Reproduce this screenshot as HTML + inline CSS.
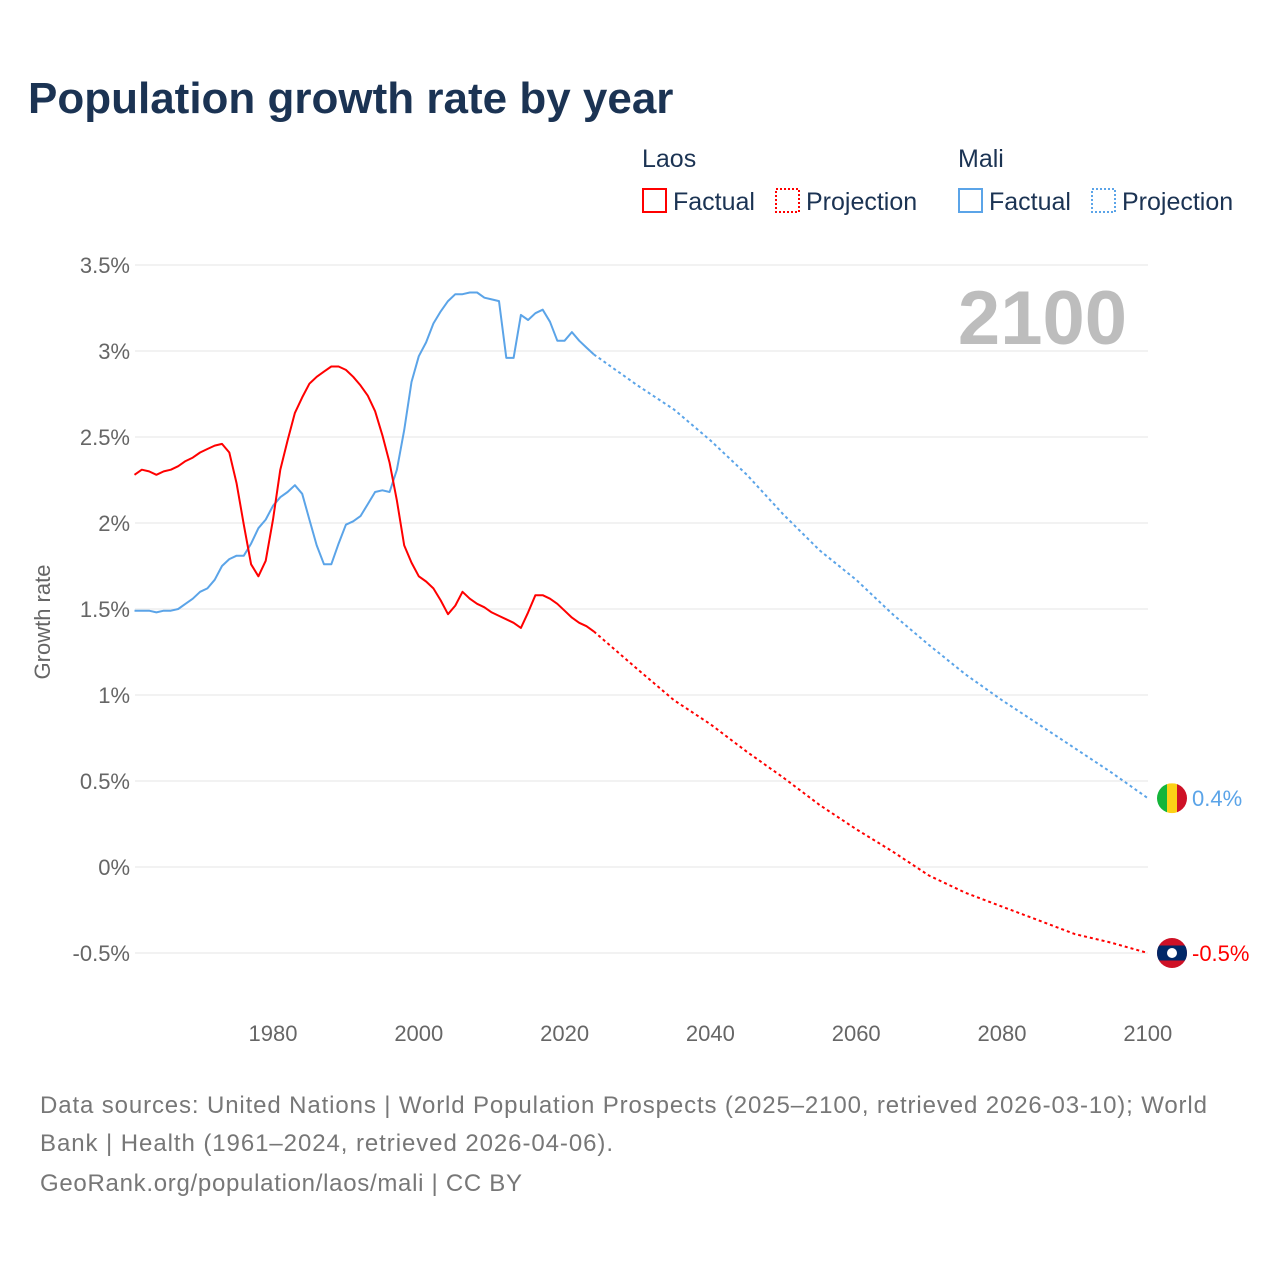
<!DOCTYPE html>
<html><head><meta charset="utf-8"><style>
body{margin:0;background:#fff;}
svg text{font-family:"Liberation Sans",sans-serif;}
</style></head><body>
<svg id="chart" width="1280" height="1280" xmlns="http://www.w3.org/2000/svg">
<rect width="1280" height="1280" fill="#fff"/>
<text x="28" y="113" font-size="44" font-weight="bold" fill="#1b3353">Population growth rate by year</text>
<g font-size="25" fill="#1b3353">
<text x="642" y="167">Laos</text>
<text x="958" y="167">Mali</text>
<g><rect x="643" y="189" width="23" height="23" fill="none" stroke="#f00" stroke-width="2"/><text x="673" y="210">Factual</text></g>
<g><rect x="776" y="189" width="23" height="23" fill="none" stroke="#f00" stroke-width="2" stroke-dasharray="2,2"/><text x="806" y="210">Projection</text></g>
<g><rect x="959" y="189" width="23" height="23" fill="none" stroke="#5ba4e8" stroke-width="2"/><text x="989" y="210">Factual</text></g>
<g><rect x="1092" y="189" width="23" height="23" fill="none" stroke="#5ba4e8" stroke-width="2" stroke-dasharray="2,2"/><text x="1122" y="210">Projection</text></g>
</g>
<text x="1127" y="344" font-size="76" font-weight="bold" fill="#bdbdbd" text-anchor="end">2100</text>
<text transform="translate(50,622) rotate(-90)" font-size="22" fill="#666" text-anchor="middle">Growth rate</text>
<g id="grid"></g><g id="lines"></g><g id="labels"></g>
<g font-size="24" fill="#777">
<text x="40" y="1113" textLength="1167" lengthAdjust="spacing">Data sources: United Nations | World Population Prospects (2025–2100, retrieved 2026-03-10); World</text>
<text x="40" y="1151" textLength="573" lengthAdjust="spacing">Bank | Health (1961–2024, retrieved 2026-04-06).</text>
<text x="40" y="1191" textLength="482" lengthAdjust="spacing">GeoRank.org/population/laos/mali | CC BY</text>
</g>
</svg>
<script>
const yTicks=[3.5,3,2.5,2,1.5,1,0.5,0,-0.5];
const yTickLabels=["3.5%","3%","2.5%","2%","1.5%","1%","0.5%","0%","-0.5%"];
const xTicks=[1980,2000,2020,2040,2060,2080,2100];
const factYears=[];for(let y=1961;y<=2024;y++)factYears.push(y);
const laosFactual=[2.28,2.31,2.30,2.28,2.30,2.31,2.33,2.36,2.38,2.41,2.43,2.45,2.46,2.41,2.23,1.99,1.76,1.69,1.78,2.02,2.31,2.48,2.64,2.73,2.81,2.85,2.88,2.91,2.91,2.89,2.85,2.80,2.74,2.65,2.51,2.35,2.13,1.87,1.77,1.69,1.66,1.62,1.55,1.47,1.52,1.60,1.56,1.53,1.51,1.48,1.46,1.44,1.42,1.39,1.48,1.58,1.58,1.56,1.53,1.49,1.45,1.42,1.40,1.37];
const maliFactual=[1.49,1.49,1.49,1.48,1.49,1.49,1.50,1.53,1.56,1.60,1.62,1.67,1.75,1.79,1.81,1.81,1.88,1.97,2.02,2.10,2.15,2.18,2.22,2.17,2.02,1.87,1.76,1.76,1.88,1.99,2.01,2.04,2.11,2.18,2.19,2.18,2.31,2.54,2.82,2.97,3.05,3.16,3.23,3.29,3.33,3.33,3.34,3.34,3.31,3.30,3.29,2.96,2.96,3.21,3.18,3.22,3.24,3.17,3.06,3.06,3.11,3.06,3.02,2.98];
const projYears=[2024,2030,2035,2040,2045,2050,2055,2060,2065,2070,2075,2080,2085,2090,2095,2100];
const laosProjection=[1.37,1.15,0.97,0.83,0.67,0.52,0.36,0.22,0.09,-0.05,-0.15,-0.23,-0.31,-0.39,-0.44,-0.50];
const maliProjection=[2.98,2.80,2.66,2.48,2.28,2.05,1.84,1.67,1.47,1.29,1.12,0.97,0.83,0.69,0.55,0.40];
const NS="http://www.w3.org/2000/svg";
const xS=y=>273+(y-1980)*7.29;
const yS=v=>867-v*172;
function mk(t,a,p){const e=document.createElementNS(NS,t);for(const k in a)e.setAttribute(k,a[k]);p.appendChild(e);return e;}
const grid=document.getElementById('grid'),lines=document.getElementById('lines'),labels=document.getElementById('labels');
yTicks.forEach((v,i)=>{
 const l=mk('line',{x1:135,x2:1148,y1:yS(v),y2:yS(v),stroke:'#e6e6e6','stroke-width':1},grid);
 
 
 const t=mk('text',{x:130,y:yS(v)+8,'font-size':22,fill:'#666','text-anchor':'end'},labels);
 t.textContent=yTickLabels[i];
 
 
});
xTicks.forEach(v=>{
 const t=mk('text',{x:xS(v),y:1041,'font-size':22,fill:'#666','text-anchor':'middle'},labels);
 t.textContent=v;
 
 
});
function path(xs,vs,color,dash,name){
 const d=vs.map((v,i)=>(i?'L':'M')+xS(xs[i]).toFixed(1)+','+yS(v).toFixed(1)).join('');
 const p=mk('path',{d:d,fill:'none',stroke:color,'stroke-width':2,'stroke-linejoin':'round'},lines);
 if(dash)p.setAttribute('stroke-dasharray','3,3');
 
 
}
path(factYears,maliFactual,'#5ba4e8',false,'mali-factual-line');
path(projYears,maliProjection,'#5ba4e8',true,'mali-projection-line');
path(factYears,laosFactual,'#f00',false,'laos-factual-line');
path(projYears,laosProjection,'#f00',true,'laos-projection-line');
const mv=maliProjection[maliProjection.length-1],lv=laosProjection[laosProjection.length-1];
const fx=1172;
const mg=mk('g',{},labels);


mk('clipPath',{id:'cm'},mg);mk('circle',{cx:fx,cy:yS(mv),r:15},document.getElementById('cm'));
mk('rect',{x:fx-15,y:yS(mv)-15,width:10,height:30,fill:'#14b53a','clip-path':'url(#cm)'},mg);
mk('rect',{x:fx-5,y:yS(mv)-15,width:10,height:30,fill:'#fcd116','clip-path':'url(#cm)'},mg);
mk('rect',{x:fx+5,y:yS(mv)-15,width:10,height:30,fill:'#ce1126','clip-path':'url(#cm)'},mg);
const lg=mk('g',{},labels);


mk('clipPath',{id:'cl'},lg);mk('circle',{cx:fx,cy:yS(lv),r:15},document.getElementById('cl'));
mk('rect',{x:fx-15,y:yS(lv)-15,width:30,height:30,fill:'#ce1126','clip-path':'url(#cl)'},lg);
mk('rect',{x:fx-15,y:yS(lv)-7.5,width:30,height:15,fill:'#002868','clip-path':'url(#cl)'},lg);
mk('circle',{cx:fx,cy:yS(lv),r:5,fill:'#fff'},lg);
const mt=mk('text',{x:1192,y:yS(mv)+8,'font-size':22,fill:'#5ba4e8'},labels);
mt.textContent=mv.toFixed(1)+'%';


const lt=mk('text',{x:1192,y:yS(lv)+8,'font-size':22,fill:'#f00'},labels);
lt.textContent=lv.toFixed(1)+'%';


</script>
</body></html>
